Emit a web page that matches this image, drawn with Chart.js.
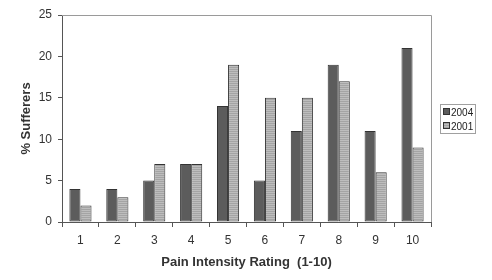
<!DOCTYPE html>
<html>
<head>
<meta charset="utf-8">
<script src="https://cdn.jsdelivr.net/npm/chart.js@4.4.0/dist/chart.umd.min.js"></script>
<style>
  html, body { margin: 0; padding: 0; background: #fff; }
  #box { width: 492px; height: 280px; }
</style>
</head>
<body>
<div id="box"><canvas id="grafico" width="492" height="280"></canvas></div>
<script>
// dados
const categorias = ["1", "2", "3", "4", "5", "6", "7", "8", "9", "10"];
const serie2004 = [4, 4, 5, 7, 14, 5, 11, 19, 11, 21];
const serie2001 = [2, 3, 7, 7, 19, 15, 15, 17, 6, 9];
const nomesSeries = ["2004", "2001"];

// textura listrada das barras claras
function listras() {
  const c = document.createElement("canvas");
  c.width = 2; c.height = 2;
  const g = c.getContext("2d");
  g.fillStyle = "#bdbdbd"; g.fillRect(0, 0, 2, 1);
  g.fillStyle = "#a4a4a4"; g.fillRect(0, 1, 2, 1);
  return g.createPattern(c, "repeat");
}

const ctx = document.getElementById("grafico").getContext("2d");
const claro = listras();

// moldura do grafico + legenda em caixa
const moldura = {
  id: "moldura",
  afterDraw(chart) {
    const { ctx, chartArea: a } = chart;
    ctx.save();
    ctx.strokeStyle = "#9a9a9a";
    ctx.lineWidth = 1;
    ctx.beginPath();
    ctx.moveTo(a.left, a.top + 0.5);
    ctx.lineTo(a.right + 0.5, a.top + 0.5);
    ctx.lineTo(a.right + 0.5, a.bottom);
    ctx.stroke();

    // legenda
    const lx = 440, ly = 104, lw = 35, lh = 29;
    ctx.strokeStyle = "#a0a0a0";
    ctx.strokeRect(lx + 0.5, ly + 0.5, lw, lh);
    ctx.font = "10px 'Liberation Sans', Arial, sans-serif";
    ctx.textBaseline = "middle";
    const cores = ["#5c5c5c", claro];
    nomesSeries.forEach((nome, i) => {
      const y = ly + 8 + i * 14;
      ctx.fillStyle = cores[i];
      ctx.fillRect(lx + 3, y - 3, 6, 6);
      ctx.strokeStyle = "#333";
      ctx.strokeRect(lx + 3.5, y - 3.5, 6, 6);
      ctx.fillStyle = "#222";
      ctx.fillText(nome, lx + 11, y + 1);
    });
    ctx.restore();
  }
};

new Chart(ctx, {
  type: "bar",
  data: {
    labels: categorias,
    datasets: [
      {
        label: nomesSeries[0],
        data: serie2004,
        backgroundColor: "#5c5c5c",
        borderColor: "#333333",
        borderWidth: 1,
        borderSkipped: false,
        categoryPercentage: 0.6,
        barPercentage: 1.0
      },
      {
        label: nomesSeries[1],
        data: serie2001,
        backgroundColor: claro,
        borderColor: "#333333",
        borderWidth: 1,
        borderSkipped: false,
        categoryPercentage: 0.6,
        barPercentage: 1.0
      }
    ]
  },
  plugins: [moldura],
  options: {
    responsive: false,
    animation: false,
    layout: { padding: { top: 15, right: 61, left: 0, bottom: 0 } },
    plugins: {
      legend: { display: false },
      tooltip: { enabled: false }
    },
    scales: {
      x: {
        grid: { offset: true, drawOnChartArea: false, tickLength: 5, color: "#555" },
        border: { color: "#555", width: 1 },
        ticks: {
          color: "#333",
          padding: 6,
          font: { family: "'Liberation Sans', Arial", size: 12 }
        },
        title: {
          display: true,
          text: "Pain Intensity Rating  (1-10)",
          color: "#333",
          padding: { top: 10, bottom: 10 },
          font: { family: "'Liberation Sans', Arial", size: 13, weight: "bold" }
        },
        afterFit(s) { s.height = 58; }
      },
      y: {
        min: 0,
        max: 25,
        ticks: {
          stepSize: 5,
          color: "#333",
          padding: 6,
          font: { family: "'Liberation Sans', Arial", size: 12 }
        },
        grid: { drawOnChartArea: false, tickLength: 4, color: "#555" },
        border: { color: "#555", width: 1 },
        title: {
          display: true,
          text: "% Sufferers",
          color: "#333",
          padding: { top: 19, bottom: 19 },
          font: { family: "'Liberation Sans', Arial", size: 13, weight: "bold" }
        },
        afterFit(s) { s.width = 62; }
      }
    }
  }
});
</script>
</body>
</html>
